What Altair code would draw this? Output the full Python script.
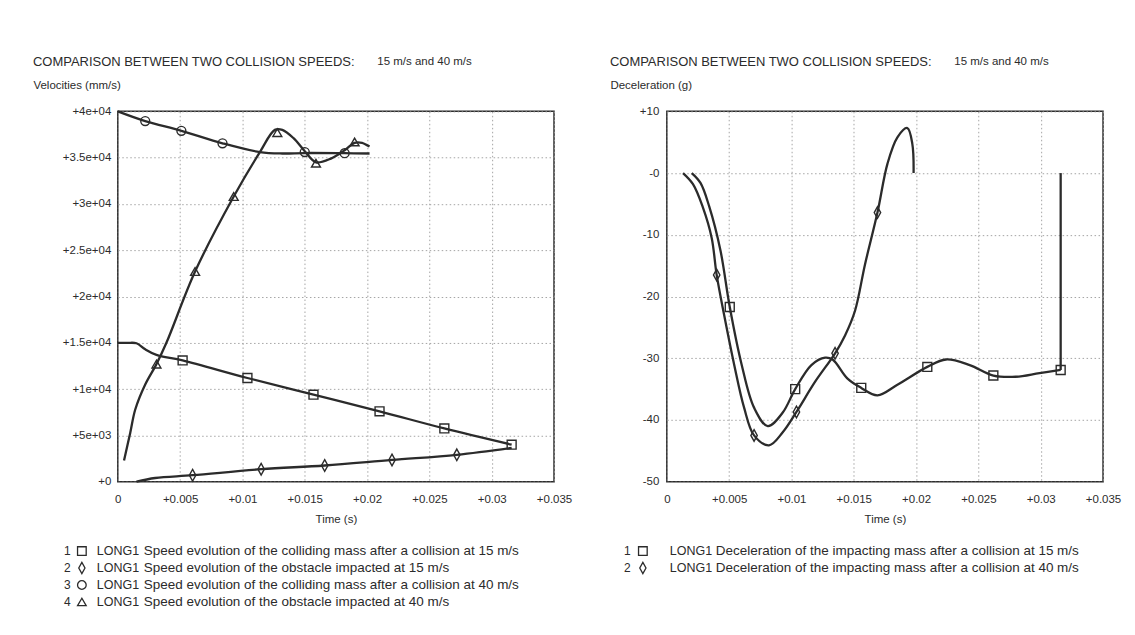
import altair as alt
import pandas as pd

FONT = "Liberation Sans"
INK = "#2b2b2b"
GRID = "#9a9a9a"

HEADLINE = "COMPARISON BETWEEN TWO COLLISION SPEEDS:"
HEADLINE_SPEEDS = "15 m/s and 40 m/s"

# ---- axis ticks / labels ----
time_ticks = [0, 0.005, 0.01, 0.015, 0.02, 0.025, 0.03, 0.035]
time_labels = ["0", "+0.005", "+0.01", "+0.015", "+0.02", "+0.025", "+0.03", "+0.035"]

vel_ticks = [0, 5000, 10000, 15000, 20000, 25000, 30000, 35000, 40000]
vel_labels = ["+0", "+5e+03", "+1e+04", "+1.5e+04", "+2e+04", "+2.5e+04", "+3e+04", "+3.5e+04", "+4e+04"]

dec_ticks = [-50, -40, -30, -20, -10, 0, 10]
dec_labels = ["-50", "-40", "-30", "-20", "-10", "-0", "+10"]

# ---- left panel: velocities (mm/s) ----
v1_t = [0.0, 0.0008, 0.0015, 0.0022, 0.0031, 0.0052, 0.0104, 0.0157, 0.0210, 0.0262, 0.0316]
v1_v = [15000, 15000, 14950, 14300, 13700, 13100, 11200, 9400, 7600, 5750, 4000]
v1_mt = [0.0052, 0.0104, 0.0157, 0.0210, 0.0262, 0.0316]
v1_mv = [13100, 11200, 9400, 7600, 5750, 4000]

v2_t = [0.0015, 0.0030, 0.0060, 0.0115, 0.0166, 0.0220, 0.0272, 0.0316]
v2_v = [0, 400, 700, 1350, 1750, 2350, 2900, 3650]
v2_mt = [0.0060, 0.0115, 0.0166, 0.0220, 0.0272]
v2_mv = [700, 1350, 1750, 2350, 2900]

v3_t = [0.0, 0.0022, 0.0051, 0.0084, 0.0114, 0.0132, 0.0150, 0.0182, 0.0202]
v3_v = [40000, 38950, 37900, 36550, 35600, 35450, 35500, 35480, 35450]
v3_mt = [0.0022, 0.0051, 0.0084, 0.0150, 0.0182]
v3_mv = [38950, 37900, 36550, 35600, 35480]

v4_t = [0.0005, 0.0010, 0.0014, 0.0022, 0.0031, 0.0039, 0.0062, 0.0093, 0.0114, 0.0126,
        0.0132, 0.0141, 0.0150, 0.0159, 0.0171, 0.0182, 0.0190, 0.0196, 0.0202]
v4_v = [2300, 5300, 7800, 10500, 12700, 15000, 22700, 30800, 35600, 38000,
        38000, 37100, 35700, 34500, 34900, 35800, 36600, 36600, 36200]
v4_mt = [0.0031, 0.0062, 0.0093, 0.0128, 0.0159, 0.0190]
v4_mv = [12700, 22700, 30800, 37700, 34400, 36700]

vel_series = ["s1", "s2", "s3", "s4"]
vel_numbers = [1, 2, 3, 4]
vel_texts = [
    "Speed evolution of the colliding mass after a collision at 15 m/s",
    "Speed evolution of the obstacle impacted at 15 m/s",
    "Speed evolution of the colliding mass after a collision at 40 m/s",
    "Speed evolution of the obstacle impacted at 40 m/s",
]

# ---- right panel: deceleration (g) ----
d1_t = [0.0020, 0.0027, 0.0034, 0.0043, 0.00505, 0.0060, 0.0070, 0.0081, 0.0093, 0.0103,
        0.0116, 0.0127, 0.0133, 0.0145, 0.0156, 0.0169, 0.0185, 0.0209, 0.0224, 0.0243,
        0.0262, 0.0280, 0.0299, 0.0316]
d1_g = [0, -1.6, -5.4, -12.5, -21.7, -31, -38, -41, -38.8, -35,
        -31.1, -29.9, -30.2, -33.3, -34.8, -36, -34.3, -31.4, -30.2, -31.1,
        -32.8, -33, -32.4, -31.9]
# final jump back to zero (straight vertical segment)
d1_end_t = [0.0316, 0.0316]
d1_end_g = [-31.9, 0]
d1_mt = [0.00505, 0.0103, 0.0156, 0.0209, 0.0262, 0.0316]
d1_mg = [-21.7, -35, -34.8, -31.4, -32.8, -31.9]

d2_t = [0.0013, 0.0021, 0.0029, 0.0036, 0.0040, 0.0046, 0.0054, 0.0062, 0.0070, 0.0082,
        0.0093, 0.0104, 0.0119, 0.0135, 0.0143, 0.0151, 0.0159, 0.0169, 0.0177, 0.0185,
        0.0193, 0.0197, 0.0198]
d2_g = [0, -1.8, -5.6, -10.5, -16.5, -23, -31, -38, -42.5, -44.1,
        -42, -38.7, -33.8, -29.2, -26.3, -22.3, -14.8, -6.4, 1.5, 5.8,
        7.3, 4.7, 0]
d2_mt = [0.0040, 0.0070, 0.0104, 0.0135, 0.0169]
d2_mg = [-16.5, -42.5, -38.7, -29.2, -6.4]

dec_series = ["s1", "s2"]
dec_numbers = [1, 2]
dec_texts = [
    "Deceleration of the impacting mass after a collision at 15 m/s",
    "Deceleration of the impacting mass after a collision at 40 m/s",
]

DIAMOND = "M0,-1.3L0.72,0L0,1.3L-0.72,0Z"
shape_domain = ["s1", "s2", "s3", "s4"]
shape_range = ["square", DIAMOND, "circle", "triangle-up"]

W, H = 437, 371


def line_frame(items):
    rows = []
    for name, ts, vs in items:
        for i, (t, v) in enumerate(zip(ts, vs)):
            rows.append({"series": name, "i": i, "t": t, "v": v})
    return pd.DataFrame(rows)


def label_expr(labels, start, step):
    arr = "[" + ",".join("'" + s + "'" for s in labels) + "]"
    return f"{arr}[round((datum.value - ({start})) / {step})]"


def panel(lines_df, marks_df, straight_df, y_ticks, y_labels, y_domain, y_start, y_step,
          y_title, head_x, y_label_pad):
    x_enc = alt.X(
        "t:Q",
        scale=alt.Scale(domain=[0, 0.035], nice=False, zero=False),
        axis=alt.Axis(
            values=time_ticks, labelExpr=label_expr(time_labels, 0, 0.005),
            title="Time (s)", titleY=38, titleBaseline="middle",
            labelPadding=12, labelFlush=False, labelOverlap=False,
        ),
    )
    y_enc = alt.Y(
        "v:Q",
        scale=alt.Scale(domain=y_domain, nice=False, zero=False),
        axis=alt.Axis(
            values=y_ticks, labelExpr=label_expr(y_labels, y_start, y_step),
            title=y_title, titleAngle=0, titleAlign="left", titleBaseline="middle",
            titleX=head_x, titleY=-26, labelPadding=y_label_pad,
            labelFlush=False, labelOverlap=False,
        ),
    )
    layers = [
        alt.Chart(lines_df).mark_line(
            interpolate="catmull-rom", color=INK, strokeWidth=2.3
        ).encode(x=x_enc, y=y_enc, detail="series:N", order="i:Q")
    ]
    if straight_df is not None:
        layers.append(
            alt.Chart(straight_df).mark_line(color=INK, strokeWidth=2.3).encode(
                x="t:Q", y="v:Q", detail="series:N", order="i:Q")
        )
    layers.append(
        alt.Chart(marks_df).mark_point(
            filled=False, color=INK, strokeWidth=1.4, size=80, opacity=1
        ).encode(
            x="t:Q", y="v:Q",
            shape=alt.Shape("series:N", scale=alt.Scale(domain=shape_domain, range=shape_range), legend=None),
        )
    )
    layers.append(
        alt.Chart(pd.DataFrame({"txt": [HEADLINE]})).mark_text(
            align="left", baseline="middle", font=FONT, fontSize=13, color=INK
        ).encode(x=alt.value(head_x), y=alt.value(-49), text="txt:N")
    )
    layers.append(
        alt.Chart(pd.DataFrame({"txt": [HEADLINE_SPEEDS]})).mark_text(
            align="left", baseline="middle", font=FONT, fontSize=11.5, color=INK
        ).encode(x=alt.value(head_x + 345), y=alt.value(-49), text="txt:N")
    )
    return alt.layer(*layers).properties(width=W, height=H)


def legend(numbers, series, texts, x_num, x_sym, x_long, x_txt):
    df = pd.DataFrame({
        "row": numbers,
        "num": [str(n) for n in numbers],
        "series": series,
        "long": ["LONG1"] * len(numbers),
        "label": texts,
    })
    base = alt.Chart(df).encode(y=alt.Y("row:O", axis=None))
    num = base.mark_text(align="left", baseline="middle", font=FONT, fontSize=12, color=INK).encode(
        x=alt.value(x_num), text="num:N")
    sym = base.mark_point(filled=False, color=INK, strokeWidth=1.3, size=75, opacity=1).encode(
        x=alt.value(x_sym),
        shape=alt.Shape("series:N", scale=alt.Scale(domain=shape_domain, range=shape_range), legend=None))
    lng = base.mark_text(align="left", baseline="middle", font=FONT, fontSize=12.5, color=INK).encode(
        x=alt.value(x_long), text="long:N")
    txt = base.mark_text(align="left", baseline="middle", font=FONT, fontSize=13.5, color=INK).encode(
        x=alt.value(x_txt), text="label:N")
    return alt.layer(num, sym, lng, txt).properties(
        width=W, height=17 * len(numbers),
        view=alt.ViewBackground(stroke="transparent"),
    )


vel_lines = line_frame([("s1", v1_t, v1_v), ("s2", v2_t, v2_v), ("s3", v3_t, v3_v), ("s4", v4_t, v4_v)])
vel_marks = line_frame([("s1", v1_mt, v1_mv), ("s2", v2_mt, v2_mv), ("s3", v3_mt, v3_mv), ("s4", v4_mt, v4_mv)])
dec_lines = line_frame([("s1", d1_t, d1_g), ("s2", d2_t, d2_g)])
dec_straight = line_frame([("s1", d1_end_t, d1_end_g)])
dec_marks = line_frame([("s1", d1_mt, d1_mg), ("s2", d2_mt, d2_mg)])

left = alt.vconcat(
    panel(vel_lines, vel_marks, None, vel_ticks, vel_labels, [0, 40000], 0, 5000,
          "Velocities (mm/s)", -85, 7),
    legend(vel_numbers, vel_series, vel_texts, -54, -36, -21, 26),
    spacing=15,
)
right = alt.vconcat(
    panel(dec_lines, dec_marks, dec_straight, dec_ticks, dec_labels, [-50, 10], -50, 10,
          "Deceleration (g)", -57, 8),
    legend(dec_numbers, dec_series, dec_texts, -43, -24, 3, 49),
    spacing=15,
)

chart = alt.hconcat(left, right, spacing=36).properties(
    padding={"left": 24, "top": 47, "right": 5, "bottom": 5},
    background="white",
).configure(font=FONT).configure_view(
    stroke=INK, strokeWidth=1.5
).configure_axis(
    labelFont=FONT, labelFontSize=11.5, labelColor=INK,
    titleFont=FONT, titleFontSize=11.5, titleFontWeight="normal", titleColor=INK,
    ticks=False, tickSize=0, domain=False,
    grid=True, gridColor=GRID, gridDash=[1.5, 2.5], gridWidth=0.9,
)

chart.save("out.html", embed_options={"renderer": "svg", "actions": False})
